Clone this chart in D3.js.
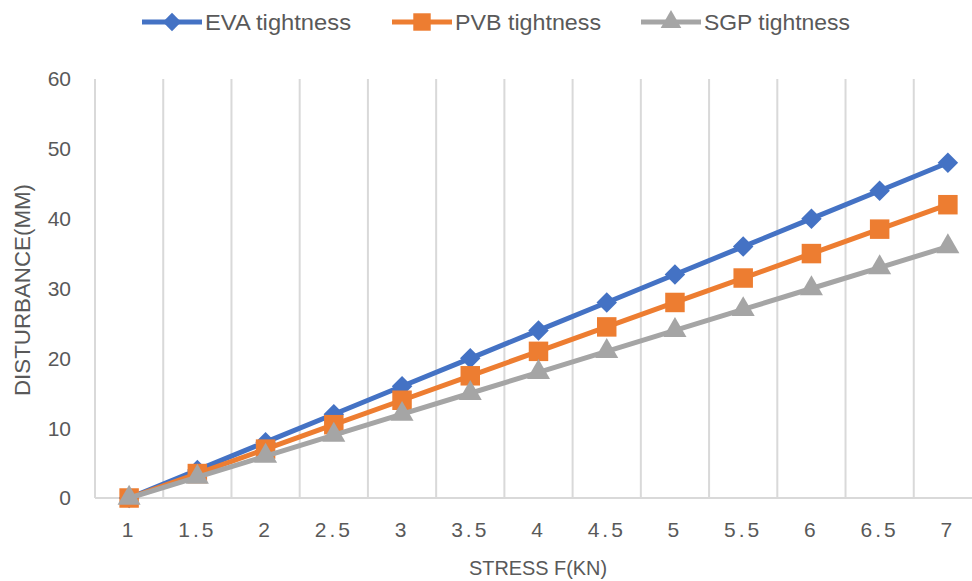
<!DOCTYPE html>
<html>
<head>
<meta charset="utf-8">
<script src="https://cdn.jsdelivr.net/npm/d3@7"></script>
<style>
  body { margin: 0; background: #fff; }
  svg { display: block; font-family: "Liberation Sans", "Open Sans", sans-serif; }
</style>
</head>
<body>
<div id="chart"></div>
<script>
// data
var stress = ["1", "1.5", "2", "2.5", "3", "3.5", "4", "4.5", "5", "5.5", "6", "6.5", "7"];
var eva = [0, 4, 8, 12, 16, 20, 24, 28, 32, 36, 40, 44, 48];
var pvb = [0, 3.5, 7, 10.5, 14, 17.5, 21, 24.5, 28, 31.5, 35, 38.5, 42];
var sgp = [0, 3, 6, 9, 12, 15, 18, 21, 24, 27, 30, 33, 36];
var yTicks = [0, 10, 20, 30, 40, 50, 60];

var width = 972, height = 581;
var plotLeft = 95, plotRight = 982, plotTop = 79, plotBottom = 498;

// excel style diamond: a square turned 45 degrees
var diamond = {
  draw: function(ctx, size) {
    var r = Math.sqrt(size / 2);
    ctx.moveTo(0, -r); ctx.lineTo(r, 0); ctx.lineTo(0, r); ctx.lineTo(-r, 0); ctx.closePath();
  }
};

var series = [
  {name: "EVA tightness", values: eva, color: "#4472C4", symbol: diamond, size: 210},
  {name: "PVB tightness", values: pvb, color: "#ED7D31", symbol: d3.symbolSquare, size: 380},
  {name: "SGP tightness", values: sgp, color: "#A5A5A5", symbol: d3.symbolTriangle, size: 230}
];

var svg = d3.select("#chart").append("svg")
  .attr("width", width).attr("height", height);

var x = d3.scaleBand().domain(stress).range([plotLeft, plotRight]);
var y = d3.scaleLinear().domain([0, 60]).range([plotBottom, plotTop]);

// vertical gridlines on the category boundaries
var bounds = stress.map(function(d) { return x(d); });
svg.append("g").selectAll("line")
  .data(bounds)
  .enter().append("line")
  .attr("x1", function(d) { return d; })
  .attr("x2", function(d) { return d; })
  .attr("y1", plotTop).attr("y2", plotBottom)
  .style("stroke", "#d9d9d9").style("stroke-width", 2);

// bottom axis line
svg.append("line")
  .attr("x1", plotLeft).attr("x2", plotRight)
  .attr("y1", plotBottom).attr("y2", plotBottom)
  .style("stroke", "#d9d9d9").style("stroke-width", 2);

// y tick labels
svg.append("g").selectAll("text")
  .data(yTicks)
  .enter().append("text")
  .attr("x", 71)
  .attr("y", function(d) { return y(d); })
  .attr("dy", "0.35em")
  .attr("text-anchor", "end")
  .style("font-size", "21px")
  .style("fill", "#595959")
  .text(function(d) { return d; });

// x tick labels
svg.append("g").selectAll("text")
  .data(stress)
  .enter().append("text")
  .attr("x", function(d) { return x(d) + x.bandwidth() / 2; })
  .attr("y", 537)
  .attr("text-anchor", "middle")
  .style("font-size", "21px")
  .style("letter-spacing", "3px")
  .style("fill", "#595959")
  .text(function(d) { return d; });

// axis titles
svg.append("text")
  .attr("transform", "translate(30,290) rotate(-90)")
  .attr("text-anchor", "middle")
  .attr("textLength", 212)
  .attr("lengthAdjust", "spacingAndGlyphs")
  .style("font-size", "22px")
  .style("fill", "#595959")
  .text("DISTURBANCE(MM)");

svg.append("text")
  .attr("x", 538).attr("y", 575)
  .attr("text-anchor", "middle")
  .attr("textLength", 138)
  .attr("lengthAdjust", "spacingAndGlyphs")
  .style("font-size", "21px")
  .style("fill", "#595959")
  .text("STRESS F(KN)");

var line = d3.line()
  .x(function(d, i) { return x(stress[i]) + x.bandwidth() / 2; })
  .y(function(d) { return y(d); });

series.forEach(function(s) {
  svg.append("path")
    .datum(s.values)
    .attr("d", line)
    .style("fill", "none")
    .style("stroke", s.color)
    .style("stroke-width", 5)
    .style("stroke-linejoin", "round");

  svg.append("g").selectAll("path")
    .data(s.values)
    .enter().append("path")
    .attr("d", d3.symbol().type(s.symbol).size(s.size))
    .attr("transform", function(d, i) {
      return "translate(" + (x(stress[i]) + x.bandwidth() / 2) + "," + y(d) + ")";
    })
    .style("fill", s.color);
});

// legend
var legendX = [142, 392, 641];
var legend = svg.append("g").selectAll("g")
  .data(series)
  .enter().append("g")
  .attr("transform", function(d, i) { return "translate(" + legendX[i] + ",22)"; });

legend.append("line")
  .attr("x1", 0).attr("x2", 60)
  .style("stroke", function(d) { return d.color; })
  .style("stroke-width", 5);

legend.append("path")
  .attr("d", function(d) { return d3.symbol().type(d.symbol).size(d.size * 0.8)(); })
  .attr("transform", "translate(30,0)")
  .style("fill", function(d) { return d.color; });

legend.append("text")
  .attr("x", 63).attr("dy", "0.35em")
  .attr("textLength", 146)
  .attr("lengthAdjust", "spacingAndGlyphs")
  .style("font-size", "22px")
  .style("fill", "#595959")
  .text(function(d) { return d.name; });
</script>
</body>
</html>
